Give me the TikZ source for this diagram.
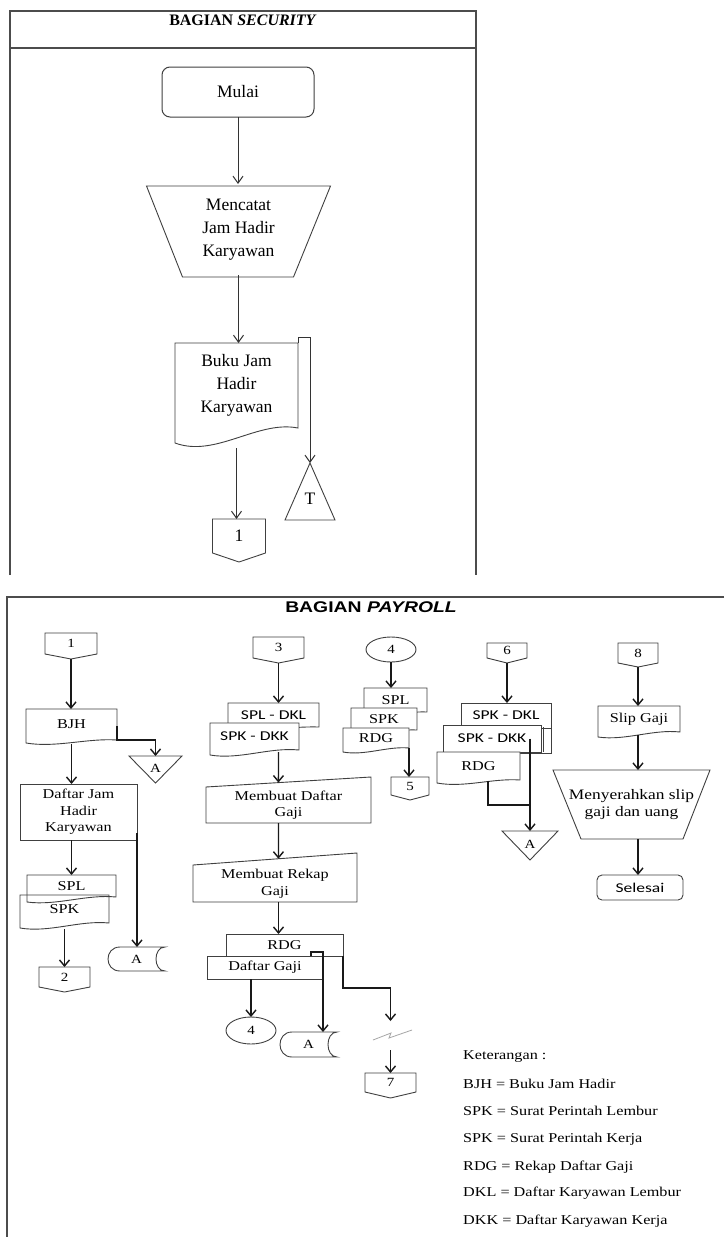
\documentclass[tikz,border=0pt]{standalone}
\usepackage{fontspec}
\setmainfont{Liberation Serif}
\newfontfamily\bserif[FakeStretch=1.2]{Liberation Serif}
\newfontfamily\bsans[FakeStretch=1.3]{Carlito}
\newfontfamily\tsans[FakeStretch=1.25]{Liberation Sans}
\usetikzlibrary{arrows.meta,calc,shapes.geometric}
\pgfdeclarelayer{background}
\pgfsetlayers{background,main}
% shape outlines drawn from a node's anchors
\newcommand\docpath[4]{(#1.north west) -- (#1.north east) -- (#1.south east) .. controls ($(#1.south west)!0.67!(#1.south east)+(0,-#4)$) and ($(#1.south west)!0.33!(#1.south east)+(0,#3)$) .. ($(#1.south west)+(0,#2)$) -- cycle}
\newcommand\offpath[2]{(#1.north west) -- (#1.north east) -- (#1.south east) -- ($(#1.south)+(0,#2)$) -- (#1.south west) -- cycle}
\newcommand\trappath[3]{(#1.north west) -- (#1.north east) -- ($(#1.south east)+(-#3,0)$) -- ($(#1.south west)+(#2,0)$) -- cycle}
\newcommand\manpath[2]{(#1.south west) -- (#1.north west) -- ($(#1.north east)+(0,-#2)$) -- (#1.south east) -- cycle}
\newcommand\storepath[1]{($(#1.north west)+(12,0)$) -- (#1.north east) .. controls ($(#1.north east)+(-12,0)$) and ($(#1.south east)+(-12,0)$) .. (#1.south east) -- ($(#1.south west)+(12,0)$) .. controls ($(#1.south west)+(-4,0)$) and ($(#1.north west)+(-4,0)$) .. ($(#1.north west)+(12,0)$) -- cycle}
\begin{document}
\begin{tikzpicture}[x=1pt,y=-1pt,
  base/.style={inner sep=0pt, outer sep=0pt, align=center},
  tf/.style={font=\fontsize{17.5}{23}\selectfont},
  bt/.style={font=\bserif\fontsize{13.5}{16.5}\selectfont},
  bn/.style={font=\bserif\fontsize{12.5}{14}\selectfont},
  bs/.style={font=\bsans\fontsize{13.5}{16}\selectfont},
  lg/.style={inner sep=0pt, anchor=west, font=\bserif\fontsize{13.5}{16}\selectfont},
  frame/.style={draw=black!70, line width=1.3pt},
  shp/.style={draw=black!75, line width=0.9pt},
  shpf/.style={shp, fill=white},
  arrT/.style={draw=black!80, line width=1pt, -{Straight Barb[length=7pt,width=10pt]}},
  arrB/.style={draw=black!90, line width=1.4pt, -{Straight Barb[length=6pt,width=10pt]}},
  lnB/.style={draw=black!90, line width=1.4pt},
  zig/.style={draw=black!35, line width=0.8pt}]
\useasboundingbox (0,0) rectangle (724,1237);

% ---------------- BAGIAN SECURITY ----------------
\node[base, font=\fontsize{16}{19}\selectfont] (ttl1) at (243,20) {\textbf{BAGIAN \textit{SECURITY}}};
\node[base, tf, draw=black!75, line width=1pt, rounded corners=8pt, minimum width=152pt, minimum height=50pt] (mulai) at (238,92) {Mulai};
\node[base, tf, minimum width=184pt, minimum height=91pt] (trap1) at (238.5,229.5) {Mencatat\\Jam Hadir\\Karyawan};
\node[base, tf, minimum width=123pt, minimum height=85pt] (buku) at (236.5,385.5) {Buku Jam\\Hadir\\Karyawan};
\node[base, tf, minimum width=50pt, minimum height=42pt] (T) at (310,499) {T};
\coordinate (Tap) at ($(T.north)+(0,-15)$);
\node[base, tf, minimum width=53pt, minimum height=34pt] (off1) at (239,536) {1};

\draw[arrT] (mulai.south) -- (mulai.south |- trap1.north);
\draw[arrT] (trap1.south) -- (trap1.south |- buku.north);
\draw[arrT] (buku.north east) -- ++(0,-6) -| (Tap);
\draw[arrT] ([yshift=-20pt]buku.south) -- (buku.south |- off1.north);

% ---------------- BAGIAN PAYROLL ----------------
\node[base, font=\tsans\bfseries\fontsize{15.5}{18}\selectfont] (ttl2) at (371,607) {BAGIAN \textit{PAYROLL}};

% column 1
\node[base, bn, minimum width=52pt, minimum height=21pt] (c1) at (71,643.5) {1};
\node[base, bt, minimum width=91pt, minimum height=31pt] (bjh) at (71.5,724.5) {BJH};
\node[base, bn, minimum width=53pt, minimum height=25pt] (triA1) at (155.5,768.5) {A};
\node[base, bt, draw=black!75, line width=0.9pt, minimum width=117pt, minimum height=56pt] (djhk) at (78.5,812) {Daftar Jam\\Hadir\\Karyawan};
\node[base, bt, minimum width=89pt, minimum height=22pt] (spl1) at (71.5,886) {SPL};
\node[base, bt, minimum width=89pt, minimum height=28pt] (spk1) at (64.5,909) {SPK};
\node[base, bn, minimum width=51pt, minimum height=20pt] (off2) at (64.5,977) {2};
\node[base, bn, minimum width=57pt, minimum height=24pt] (stA1) at (136.5,959) {A};

\draw[arrB] ([yshift=-5pt]c1.south) -- (c1.south |- bjh.north);
\draw[arrB] ([yshift=14pt]bjh.south east) -- (bjh.south east) -| (triA1.north);
\draw[arrB] ([yshift=-4pt]bjh.south) -- (bjh.south |- djhk.north);
\draw[arrB] (bjh.south |- djhk.south) -- (bjh.south |- spl1.north);
\draw[arrB] ([yshift=7pt]djhk.south east) -- (djhk.south east |- stA1.north);
\draw[arrB] ([yshift=-6pt]spk1.south) -- (spk1.south |- off2.north);

% column 2
\node[base, bn, minimum width=51pt, minimum height=21pt] (c3) at (278.5,647.5) {3};
\node[base, bs, minimum width=91pt, minimum height=24pt] (spldkl) at (273.5,715) {SPL - DKL};
\node[base, bs, minimum width=89pt, minimum height=27pt] (spkdkk) at (254.5,736.5) {SPK - DKK};
\node[base, bt, minimum width=165pt, minimum height=36pt] (mdg) at (288.5,805) {Membuat Daftar\\Gaji};
\coordinate (mdgNE) at ($(mdg.north east)+(0,-10)$);
\coordinate (mdgtop) at ($(mdg.north west)!0.439!(mdgNE)$);
\node[base, bt, minimum width=164pt, minimum height=37pt] (mrg) at (275,883.5) {Membuat Rekap\\Gaji};
\coordinate (mrgNE) at ($(mrg.north east)+(0,-12)$);
\coordinate (mrgtop) at ($(mrg.north west)!0.521!(mrgNE)$);
\node[base, bt, draw=black!75, line width=0.9pt, fill=white, minimum width=117pt, minimum height=22pt] (rdg2) at (284.5,945) {RDG};
\node[base, bt, draw=black!75, line width=0.9pt, fill=white, minimum width=116pt, minimum height=23pt] (dg) at (265,967.5) {Daftar Gaji};
\node[base, bn, draw=black!75, line width=0.9pt, shape=ellipse, minimum width=50pt, minimum height=27pt] (c4b) at (251,1030.5) {4};
\node[base, bn, minimum width=57pt, minimum height=25pt] (stA2) at (308.5,1044.5) {A};
\coordinate (ltin) at (390.5,1021);
\coordinate (ltout) at (390.5,1050);
\node[base, bn, minimum width=51pt, minimum height=19pt] (off7) at (390.5,1082.5) {7};

\draw[arrB] ([yshift=-5pt]c3.south) -- (c3.south |- spldkl.north);
\draw[arrB] ($(c3.south |- spkdkk.south)+(0,2)$) -- (mdgtop);
\draw[arrB] (c3.south |- mdg.south) -- (mrgtop);
\draw[arrB] (c3.south |- mrg.south) -- (c3.south |- rdg2.north);
\draw[arrB] ($(dg.north east)+(-12,0)$) -- ++(0,-4) -| (dg.north east |- stA2.north);
\draw[arrB] (rdg2.south east) -- ++(0,32) -| (ltin);
\draw[zig] (373,1040) -- (391,1033) -- (389,1038) -- (412,1030);
\draw[arrB] (ltout) -- (off7.north);
\draw[arrB] (dg.south -| c4b.north) -- (c4b.north);

% column 3
\node[base, bn, draw=black!75, line width=0.9pt, shape=ellipse, minimum width=50pt, minimum height=25pt] (c4) at (391,649.5) {4};
\node[base, bt, minimum width=63pt, minimum height=24pt] (spl3) at (395.5,700) {SPL};
\node[base, bt, minimum width=66pt, minimum height=22pt] (spk3) at (384,719) {SPK};
\node[base, bt, minimum width=66pt, minimum height=20pt] (rdg3) at (376,738) {RDG};
\node[base, bn, minimum width=38pt, minimum height=18pt] (off5) at (410,786) {5};

\draw[arrB] (c4.south) -- (c4.south |- spl3.north);
\draw[arrB] (rdg3.south east) -- (rdg3.south east |- off5.north);

% column 4
\node[base, bn, minimum width=40pt, minimum height=15pt] (c6) at (507,650.5) {6};
\node[base, bs, minimum width=90pt, minimum height=25pt] (spkdkl) at (506,715.5) {SPK - DKL};
\node[base, bs, minimum width=98pt, minimum height=27pt] (spkdkk2) at (492,738.5) {SPK - DKK};
\node[base, bt, minimum width=83pt, minimum height=28pt] (rdg4) at (478.5,766) {RDG};
\node[base, bn, minimum width=56pt, minimum height=27pt] (triA4) at (530,844.5) {A};
\coordinate (vtop) at (triA4.north |- spkdkk2.center);
\coordinate (rjoin) at ($(triA4.north)+(0,-26)$);

\draw[arrB] ([yshift=-5pt]c6.south) -- (c6.south |- spkdkl.north);
\draw[arrB] (vtop) -- (triA4.north);
\draw[lnB] ($(rdg4.south)+(9.5,1)$) |- (rjoin);

% column 5
\node[base, bn, minimum width=40pt, minimum height=20pt] (c8) at (638,653) {8};
\node[base, bt, minimum width=82pt, minimum height=26pt] (slip) at (639,719) {Slip Gaji};
\node[base, font=\bserif\fontsize{14.5}{17}\selectfont, minimum width=157pt, minimum height=69pt] (trap2) at (631.5,804.5) {Menyerahkan slip\\gaji dan uang};
\node[base, bs, draw=black!75, line width=0.9pt, rounded corners=5pt, minimum width=86pt, minimum height=25pt] (selesai) at (640,887.5) {Selesai};

\draw[arrB] ([yshift=-4pt]c8.south) -- (c8.south |- slip.north);
\draw[arrB] ($(c8.south |- slip.south)+(0,3)$) -- (c8.south |- trap2.north);
\draw[arrB] (c8.south |- trap2.south) -- (c8.south |- selesai.north);

% legend
\node[lg] (k0) at (463,1057) {Keterangan :};
\node[lg] (k1) at (463,1084) {BJH = Buku Jam Hadir};
\node[lg] (k2) at (463,1111) {SPK = Surat Perintah Lembur};
\node[lg] (k3) at (463,1139) {SPK = Surat Perintah Kerja};
\node[lg] (k4) at (463,1167) {RDG = Rekap Daftar Gaji};
\node[lg] (k5) at (463,1193) {DKL = Daftar Karyawan Lembur};
\node[lg] (k6) at (463,1221) {DKK = Daftar Karyawan Kerja};

% ---------------- outlines (behind texts) ----------------
\begin{pgfonlayer}{background}
\fill[white] (0,0) rectangle (724,1237);
\draw[frame] (10,575) -- (10,11) -- (476,11) -- (476,575);
\draw[frame] (10,48) -- (476,48);
\draw[frame] (724,597) -- (7,597) -- (7,1237);
% security
\draw[shp] ($(trap1.north west)+(0,2)$) -- ($(trap1.north east)+(0,2)$) -- ($(trap1.south east)+(-37,2)$) -- ($(trap1.south west)+(36,2)$) -- cycle;
\draw[shp] \docpath{buku}{15}{30}{8};
\draw[shp] (Tap) -- (T.south east) -- (T.south west) -- cycle;
\draw[shp] \offpath{off1}{9};
% column 1
\draw[shp] \offpath{c1}{5};
\draw[shp] \docpath{bjh}{3}{8}{2};
\draw[shp] (triA1.north west) -- (triA1.north east) -- ($(triA1.south)+(0,2)$) -- cycle;
\draw[shp] \docpath{spl1}{5}{9}{3};
\draw[shp] \docpath{spk1}{5}{10}{3};
\draw[shp] \offpath{off2}{5};
\draw[shp] \storepath{stA1};
% column 2
\draw[shp] \offpath{c3}{5};
\draw[shpf] \docpath{spldkl}{4}{6}{1};
\draw[shpf] \docpath{spkdkk}{5}{10}{3};
\draw[shp] \manpath{mdg}{10};
\draw[shp] \manpath{mrg}{12};
\draw[shp] \storepath{stA2};
\draw[shp] \offpath{off7}{6};
% column 3
\draw[shpf] \docpath{spl3}{3}{6}{1};
\draw[shpf] \docpath{spk3}{3}{6}{1};
\draw[shpf] \docpath{rdg3}{4}{8}{2};
\draw[shp] \offpath{off5}{5};
% column 4
\draw[shp] \offpath{c6}{5};
\draw[shpf] (spkdkl.north west) rectangle ($(spkdkl.south east)+(0,25)$);
\draw[shp] (spkdkl.south east) -- ++(-9,0);
\draw[shpf] (spkdkk2.north west) rectangle (spkdkk2.south east);
\draw[shp] ([xshift=2.5pt,yshift=-2pt]spkdkk2.north east) -- ([xshift=2.5pt]spkdkk2.south east);
\draw[shpf] \docpath{rdg4}{3}{8}{2};
\draw[shp] (triA4.north west) -- (triA4.north east) -- ($(triA4.south)+(0,2)$) -- cycle;
% column 5
\draw[shp] \offpath{c8}{4};
\draw[shp] \docpath{slip}{5}{9}{3};
\draw[shp] \trappath{trap2}{28}{27};
\end{pgfonlayer}
\end{tikzpicture}
\end{document}
